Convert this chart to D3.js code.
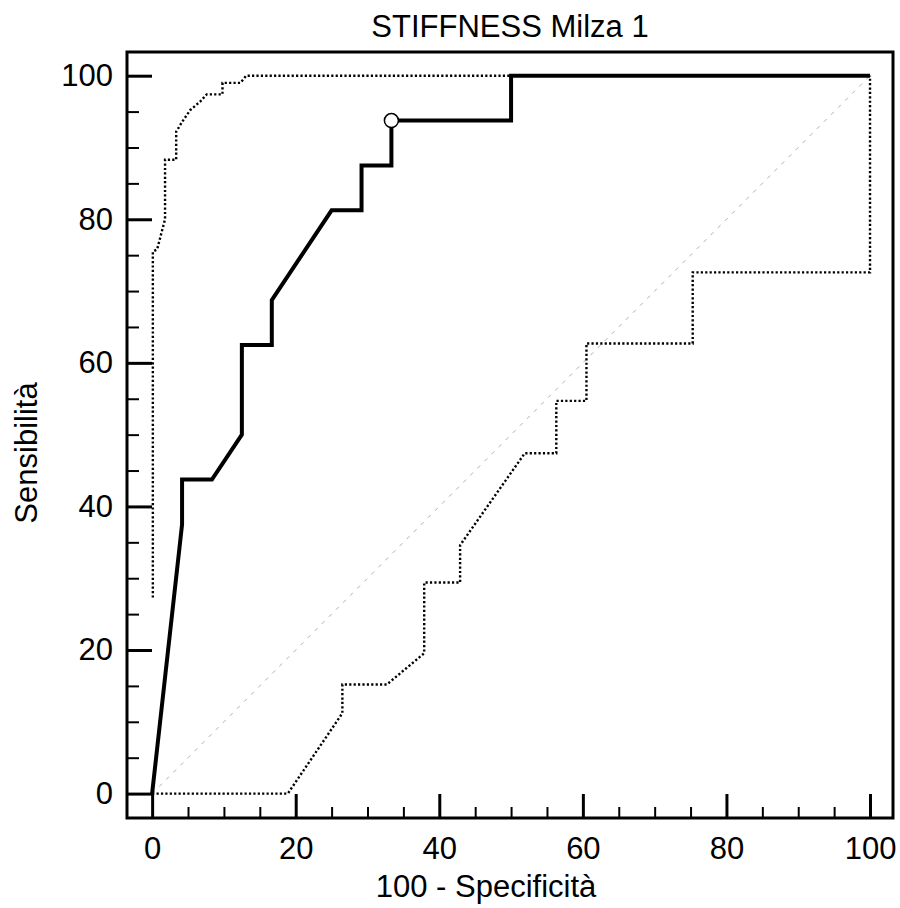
<!DOCTYPE html>
<html>
<head>
<meta charset="utf-8">
<script src="https://cdn.jsdelivr.net/npm/d3@7"></script>
<style>
  html, body { margin: 0; padding: 0; background: #fff; }
  text { font-family: "Liberation Sans", Arial, sans-serif; fill: #000; }
</style>
</head>
<body>
<svg id="chart" width="900" height="908"></svg>
<script>
// ---- data ----
const title = "STIFFNESS Milza 1";
const xLabel = "100 - Specificità";
const yLabel = "Sensibilità";
const majorTicks = [0, 20, 40, 60, 80, 100];
const minorTicks = [5, 10, 15, 25, 30, 35, 45, 50, 55, 65, 70, 75, 85, 90, 95];

// ROC curve (100 - specificity, sensitivity)
const rocX = [0, 4.17, 4.17, 8.33, 12.5, 12.5, 16.67, 16.67, 25, 29.17, 29.17, 33.33, 33.33, 50, 50, 100];
const rocY = [0, 37.5, 43.75, 43.75, 50, 62.5, 62.5, 68.75, 81.25, 81.25, 87.5, 87.5, 93.75, 93.75, 100, 100];

// Upper confidence bound
const upperX = [0.1, 0.1, 0.7, 1.8, 1.8, 3.35, 3.35, 4.2, 5.3, 6.7, 7.6, 9.8, 9.8, 12.3, 13.1, 100, 100];
const upperY = [27.3, 75.5, 75.8, 80, 88.3, 88.3, 92.2, 93.6, 95.2, 96.4, 97.4, 97.4, 99.0, 99.0, 100, 100, 100];

// Lower confidence bound
const lowerX = [0, 18.9, 26.5, 26.5, 32.7, 37.9, 37.9, 42.9, 42.9, 51.9, 56.3, 56.3, 60.5, 60.5, 75.3, 75.3, 100, 100];
const lowerY = [0, 0, 11.2, 15.2, 15.2, 19.55, 29.4, 29.4, 34.6, 47.4, 47.4, 54.7, 54.7, 62.7, 62.7, 72.6, 72.6, 100];

// Reference diagonal
const diagX = [0, 100];
const diagY = [0, 100];

// Optimal criterion point
const critX = [33.33];
const critY = [93.75];

// ---- drawing ----
const svg = d3.select("#chart");
const frame = { left: 127, top: 52, right: 893, bottom: 818 };

const x = d3.scaleLinear().domain([-3.5, 103.2]).range([frame.left, frame.right]);
const y = d3.scaleLinear().domain([-3.4, 103.3]).range([frame.bottom, frame.top]);

const pts = (xs, ys) => xs.map((v, i) => [v, ys[i]]);
const line = d3.line().x(d => x(d[0])).y(d => y(d[1]));

// diagonal
svg.append("path")
  .attr("d", line(pts(diagX, diagY)))
  .attr("fill", "none")
  .attr("stroke", "#b0b0b0")
  .attr("stroke-width", 1)
  .attr("stroke-dasharray", "4,6");

// confidence bands
[pts(upperX, upperY), pts(lowerX, lowerY)].forEach(d => {
  svg.append("path")
    .attr("d", line(d))
    .attr("fill", "none")
    .attr("stroke", "#000")
    .attr("stroke-width", 2.4)
    .attr("stroke-dasharray", "2.2,2.2");
});

// ROC
svg.append("path")
  .attr("d", line(pts(rocX, rocY)))
  .attr("fill", "none")
  .attr("stroke", "#000")
  .attr("stroke-width", 4)
  .attr("stroke-linejoin", "miter");

// criterion point
svg.selectAll("circle.crit")
  .data(pts(critX, critY))
  .enter().append("circle")
  .attr("class", "crit")
  .attr("cx", d => x(d[0]))
  .attr("cy", d => y(d[1]))
  .attr("r", 7)
  .attr("fill", "#fff")
  .attr("stroke", "#000")
  .attr("stroke-width", 1.5);

// axes: major ticks
const yAxis = d3.axisLeft(y).tickValues(majorTicks).tickSizeInner(-25).tickSizeOuter(0).tickPadding(14);
const gy = svg.append("g").attr("transform", `translate(${frame.left},0)`).call(yAxis);
gy.select(".domain").remove();
gy.selectAll(".tick line").attr("stroke", "#000").attr("stroke-width", 3);
gy.selectAll(".tick text").attr("font-size", 31).attr("font-family", "Liberation Sans, Arial, sans-serif");

const yMinor = d3.axisLeft(y).tickValues(minorTicks).tickSizeInner(-12).tickSizeOuter(0).tickFormat("");
const gym = svg.append("g").attr("transform", `translate(${frame.left},0)`).call(yMinor);
gym.select(".domain").remove();
gym.selectAll(".tick line").attr("stroke", "#000").attr("stroke-width", 2);

const xAxis = d3.axisBottom(x).tickValues(majorTicks).tickSizeInner(-24).tickSizeOuter(0).tickPadding(19);
const gx = svg.append("g").attr("transform", `translate(0,${frame.bottom})`).call(xAxis);
gx.select(".domain").remove();
gx.selectAll(".tick line").attr("stroke", "#000").attr("stroke-width", 3);
gx.selectAll(".tick text").attr("font-size", 31).attr("font-family", "Liberation Sans, Arial, sans-serif");

const xMinor = d3.axisBottom(x).tickValues(minorTicks).tickSizeInner(-11).tickSizeOuter(0).tickFormat("");
const gxm = svg.append("g").attr("transform", `translate(0,${frame.bottom})`).call(xMinor);
gxm.select(".domain").remove();
gxm.selectAll(".tick line").attr("stroke", "#000").attr("stroke-width", 2);

// frame
svg.append("rect")
  .attr("x", frame.left).attr("y", frame.top)
  .attr("width", frame.right - frame.left)
  .attr("height", frame.bottom - frame.top)
  .attr("fill", "none")
  .attr("stroke", "#000")
  .attr("stroke-width", 3);

// title and labels
svg.append("text")
  .attr("x", (frame.left + frame.right) / 2)
  .attr("y", 37)
  .attr("text-anchor", "middle")
  .attr("font-size", 31)
  .text(title);

svg.append("text")
  .attr("x", 486)
  .attr("y", 897)
  .attr("text-anchor", "middle")
  .attr("font-size", 31)
  .text(xLabel);

svg.append("text")
  .attr("transform", `translate(37,${(frame.top + frame.bottom) / 2 + 18}) rotate(-90)`)
  .attr("text-anchor", "middle")
  .attr("font-size", 31)
  .text(yLabel);
</script>
</body>
</html>
